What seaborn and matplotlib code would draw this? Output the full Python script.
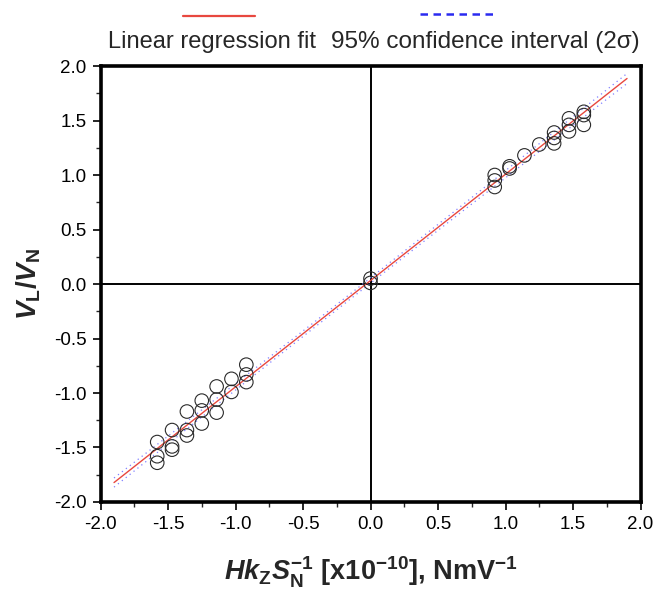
import numpy as np
import pandas as pd
import matplotlib
matplotlib.use("Agg")
import matplotlib.pyplot as plt
from matplotlib.lines import Line2D
from matplotlib.ticker import MultipleLocator
import seaborn as sns

# --- dados ---
hk = [0.92, 0.92, 0.92, 1.03, 1.03, 1.14, 1.25, 1.36, 1.36, 1.36,
      1.47, 1.47, 1.47, 1.58, 1.58, 1.58,
      -1.58, -1.58, -1.58, -1.47, -1.47, -1.47, -1.36, -1.36, -1.36,
      -1.25, -1.25, -1.25, -1.14, -1.14, -1.14, -1.03, -1.03,
      -0.92, -0.92, -0.92,
      0.0, 0.0]
vl_vn = [0.89, 0.95, 1.00, 1.06, 1.08, 1.18, 1.28, 1.29, 1.34, 1.39,
         1.40, 1.46, 1.52, 1.46, 1.55, 1.58,
         -1.45, -1.58, -1.64, -1.34, -1.49, -1.52, -1.17, -1.34, -1.39,
         -1.07, -1.16, -1.28, -0.94, -1.06, -1.18, -0.87, -0.99,
         -0.74, -0.83, -0.90,
         0.01, 0.05]
fit_range = [-1.9, 1.9]

sns.set_theme(style="ticks")
plt.rcParams['font.family'] = ['Liberation Sans', 'DejaVu Sans']
plt.rcParams['mathtext.fontset'] = 'custom'
plt.rcParams['mathtext.it'] = 'Liberation Sans:italic:bold'
plt.rcParams['mathtext.rm'] = 'Liberation Sans:bold'
plt.rcParams['mathtext.bf'] = 'Liberation Sans:bold'

df = pd.DataFrame({'x': hk, 'y': vl_vn})

# regressão linear + intervalo de confiança (2 sigma)
x = np.array(hk)
y = np.array(vl_vn)
slope, intercept = np.polyfit(x, y, 1)
resid = y - (slope * x + intercept)
sigma = np.sqrt(np.sum(resid ** 2) / (len(x) - 2))
xf = np.linspace(fit_range[0], fit_range[1], 200)
yf = slope * xf + intercept
half = 2 * sigma * np.sqrt(1 / len(x) + (xf - x.mean()) ** 2 / np.sum((x - x.mean()) ** 2))
fit = pd.DataFrame({'x': xf, 'y': yf, 'lo': yf - half, 'hi': yf + half})

fig = plt.figure(figsize=(6.54, 5.91), dpi=100)
ax = fig.add_axes([0.1537, 0.1506, 0.8257, 0.7377])

ax.axhline(0, color='black', lw=1.4, zorder=1)
ax.axvline(0, color='black', lw=1.4, zorder=1)

sns.lineplot(data=fit, x='x', y='lo', ax=ax, color='#8080ff', lw=0.9,
             linestyle=(0, (1, 3)), zorder=2)
sns.lineplot(data=fit, x='x', y='hi', ax=ax, color='#8080ff', lw=0.9,
             linestyle=(0, (1, 3)), zorder=2)
sns.lineplot(data=fit, x='x', y='y', ax=ax, color='#e8483f', lw=1.0, zorder=3)
sns.scatterplot(data=df, x='x', y='y', ax=ax, marker='o', s=95,
                facecolor='none', edgecolor='#2a2a2a', linewidth=0.8, zorder=4)

ax.set_xlim(-2, 2)
ax.set_ylim(-2, 2)
ax.xaxis.set_major_locator(MultipleLocator(0.5))
ax.yaxis.set_major_locator(MultipleLocator(0.5))
ax.xaxis.set_minor_locator(MultipleLocator(0.25))
ax.yaxis.set_minor_locator(MultipleLocator(0.25))
ax.xaxis.set_major_formatter(lambda v, p: f"{v:.1f}".replace('−', '-'))
ax.yaxis.set_major_formatter(lambda v, p: f"{v:.1f}".replace('−', '-'))
ax.tick_params(which='major', direction='out', length=6, width=1.2,
               labelsize=13.5, colors='black', pad=4)
ax.tick_params(which='minor', direction='out', length=3.5, width=1.0)
for s in ax.spines.values():
    s.set_linewidth(2.6)
    s.set_color('black')

ax.set_xlabel(r'$Hk_\mathrm{Z}S_\mathrm{N}^{\mathrm{-1}}$ [x10$^{\mathrm{-10}}$], NmV$^{\mathrm{-1}}$',
              fontsize=19.5, fontweight='bold', labelpad=16)
ax.set_ylabel(r'$V_\mathrm{L}/V_\mathrm{N}$', fontsize=20, fontweight='bold', labelpad=8)

# legenda manual no topo (linha acima do texto)
fig.add_artist(Line2D([0.28, 0.39], [0.973, 0.973], color='#e8483f', lw=1.6))
fig.add_artist(Line2D([0.642, 0.754], [0.976, 0.976], color='#2a2af0', lw=1.8,
                      linestyle=(0, (3, 2.2))))
fig.text(0.324, 0.929, 'Linear regression fit', ha='center', va='center', fontsize=17)
fig.text(0.742, 0.929, '95% confidence interval (2σ)', ha='center', va='center', fontsize=17.5)

fig.savefig('out.png', dpi=100)
